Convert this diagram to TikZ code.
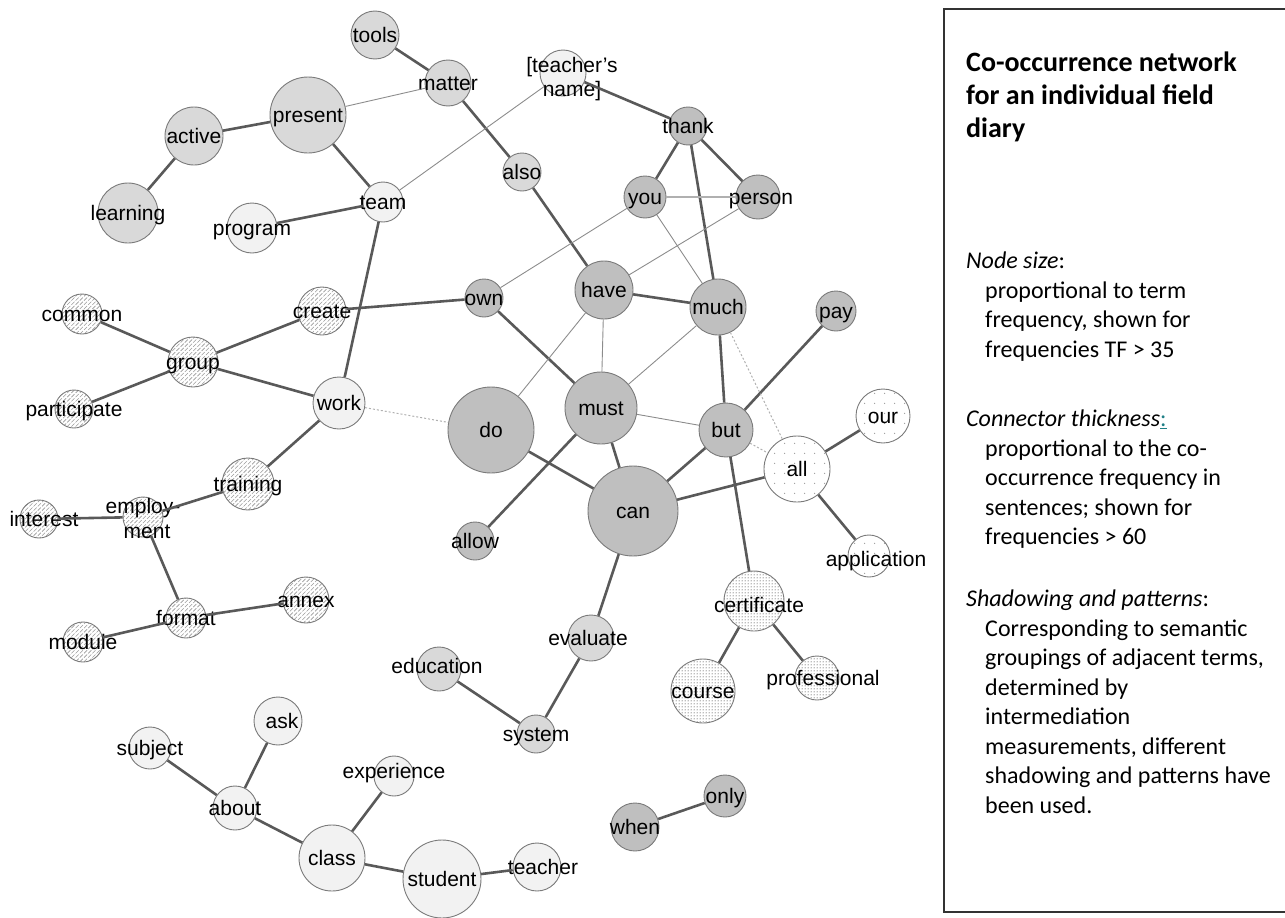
\documentclass[tikz,border=0pt]{standalone}
\usepackage{fontspec}
\usetikzlibrary{patterns}
\newfontfamily\termfont{Liberation Sans}
\newfontfamily\legendfont{Carlito}

\definecolor{darkfill}{HTML}{BFBFBF}
\definecolor{midfill}{HTML}{D9D9D9}
\definecolor{lightfill}{HTML}{F2F2F2}
\definecolor{rimgray}{HTML}{7A7A7A}
\definecolor{heavygray}{HTML}{595959}
\definecolor{thingray}{HTML}{8C8C8C}
\definecolor{palegray}{HTML}{B0B0B0}
\definecolor{dotgray}{HTML}{9A9A9A}
\definecolor{densegray}{HTML}{7C7C7C}
\definecolor{linkteal}{HTML}{1F7F86}

% patterns for the term groups
\pgfdeclarepatternformonly{hatch}{\pgfqpoint{-1pt}{-1pt}}{\pgfqpoint{5pt}{5pt}}{\pgfqpoint{4.2pt}{4.2pt}}{
  \pgfsetlinewidth{0.6pt}
  \pgfpathmoveto{\pgfqpoint{0pt}{0pt}}
  \pgfpathlineto{\pgfqpoint{3.1pt}{3.1pt}}
  \pgfusepath{stroke}
}
\pgfdeclarepatternformonly{sparsedots}{\pgfqpoint{0pt}{0pt}}{\pgfqpoint{10pt}{10pt}}{\pgfqpoint{10pt}{10pt}}{
  \pgfpathcircle{\pgfqpoint{5pt}{5pt}}{0.75pt}
  \pgfusepath{fill}
}
\pgfdeclarepatternformonly{densedots}{\pgfqpoint{0pt}{0pt}}{\pgfqpoint{3pt}{3pt}}{\pgfqpoint{3pt}{3pt}}{
  \pgfpathcircle{\pgfqpoint{1.5pt}{1.5pt}}{0.8pt}
  \pgfusepath{fill}
}

\begin{document}
\begin{tikzpicture}[x=1pt, y=-1pt]
    \tikzset{vertex/.style = {shape=circle, draw=rimgray, line width=0.9pt, inner sep=0pt}}
    \tikzset{vdark/.style = {vertex, fill=darkfill}}
    \tikzset{vmid/.style = {vertex, fill=midfill}}
    \tikzset{vlight/.style = {vertex, fill=lightfill}}
    \tikzset{vhatch/.style = {vertex, pattern=hatch, pattern color=dotgray}}
    \tikzset{vsparse/.style = {vertex, pattern=sparsedots, pattern color=dotgray}}
    \tikzset{vdense/.style = {vertex, pattern=densedots, pattern color=densegray}}
    \tikzset{every label/.style = {font=\termfont\fontsize{21}{25}\selectfont, inner sep=0pt, text height=15pt, text depth=0pt}}
    \tikzset{edge/.style = {draw=heavygray, line width=2.6pt}}
    \tikzset{thinedge/.style = {draw=thingray, line width=0.9pt}}
    \tikzset{paleedge/.style = {draw=palegray, line width=1.7pt}}
    \tikzset{weakedge/.style = {draw=palegray, line width=1pt, dash pattern=on 2pt off 2pt}}
    \tikzset{legend/.style = {anchor=north west, align=left, inner sep=0pt, font=\legendfont\fontsize{24}{29.5}\selectfont}}

    \useasboundingbox (0,0) rectangle (1285,918);

    % vertices
    \node[vmid, minimum size=48pt, label=center:tools] (tools) at (375,35) {};
    \node[vmid, minimum size=46pt, label=center:matter] (matter) at (448,83) {};
    \node[vmid, minimum size=76pt, label=center:present] (present) at (308,115) {};
    \node[vmid, minimum size=58pt, label=center:active] (active) at (194,136) {};
    \node[vmid, minimum size=60pt, label=center:learning] (learning) at (128,213) {};
    \node[vlight, minimum size=40pt, label=center:team] (team) at (383,202) {};
    \node[vlight, minimum size=50pt, label=center:program] (program) at (252,228) {};
    \node[vlight, minimum size=46pt, label={[xshift=9pt, yshift=8pt]center:[teacher’s}, label={[xshift=9pt, yshift=-16pt]center:name]}] (tname) at (563,73) {};
    \node[vdark, minimum size=38pt, label=center:thank] (thank) at (688,126) {};
    \node[vmid, minimum size=38pt, label=center:also] (also) at (522,172) {};
    \node[vdark, minimum size=42pt, label=center:you] (you) at (645,197) {};
    \node[vdark, minimum size=44pt, label={[xshift=3pt]center:person}] (person) at (758,197) {};
    \node[vdark, minimum size=38pt, label=center:own] (own) at (484,298) {};
    \node[vdark, minimum size=58pt, label=center:have] (have) at (604,290) {};
    \node[vdark, minimum size=56pt, label=center:much] (much) at (718,307) {};
    \node[vdark, minimum size=40pt, label=center:pay] (pay) at (836,311) {};
    \node[vhatch, minimum size=40pt, label=center:common] (common) at (82,314) {};
    \node[vhatch, minimum size=50pt, label=center:group] (group) at (193,362) {};
    \node[vhatch, minimum size=48pt, label=center:create] (create) at (322,311) {};
    \node[vhatch, minimum size=38pt, label=center:participate] (participate) at (74,409) {};
    \node[vlight, minimum size=52pt, label=center:work] (work) at (339,403) {};
    \node[vdark, minimum size=86pt, label=center:do] (do) at (491,430) {};
    \node[vdark, minimum size=72pt, label=center:must] (must) at (601,408) {};
    \node[vdark, minimum size=54pt, label=center:but] (but) at (726,430) {};
    \node[vsparse, minimum size=54pt, label=center:our] (our) at (883,416) {};
    \node[vsparse, minimum size=66pt, label=center:all] (all) at (797,469) {};
    \node[vdark, minimum size=90pt, label=center:can] (can) at (633,511) {};
    \node[vdark, minimum size=38pt, label=center:allow] (allow) at (475,541) {};
    \node[vsparse, minimum size=42pt, label={[xshift=7pt, yshift=-3pt]center:application}] (application) at (869,556) {};
    \node[vhatch, minimum size=52pt, label=center:training] (training) at (248,484) {};
    \node[vhatch, minimum size=40pt, label={[yshift=11pt]center:employ-}, label={[xshift=4pt, yshift=-14pt]center:ment}] (employment) at (143,517) {};
    \node[vhatch, minimum size=38pt, label={[xshift=5pt]center:interest}] (interest) at (39,519) {};
    \node[vdense, minimum size=60pt, label={[xshift=5pt, yshift=-4pt]center:certificate}] (certificate) at (754,601) {};
    \node[vmid, minimum size=46pt, label={[xshift=-3pt]center:evaluate}] (evaluate) at (591,638) {};
    \node[vhatch, minimum size=40pt, label=center:format] (format) at (186,618) {};
    \node[vhatch, minimum size=46pt, label=center:annex] (annex) at (306,600) {};
    \node[vhatch, minimum size=40pt, label=center:module] (module) at (83,642) {};
    \node[vmid, minimum size=44pt, label={[xshift=-2pt, yshift=3pt]center:education}] (education) at (439,669) {};
    \node[vdense, minimum size=64pt, label=center:course] (course) at (703,691) {};
    \node[vdense, minimum size=44pt, label={[xshift=6pt]center:professional}] (professional) at (817,678) {};
    \node[vlight, minimum size=48pt, label={[xshift=4pt]center:ask}] (ask) at (278,721) {};
    \node[vmid, minimum size=38pt, label=center:system] (system) at (536,734) {};
    \node[vlight, minimum size=42pt, label=center:subject] (subject) at (150,748) {};
    \node[vlight, minimum size=40pt, label={[yshift=5pt]center:experience}] (experience) at (394,776) {};
    \node[vlight, minimum size=44pt, label=center:about] (about) at (235,808) {};
    \node[vlight, minimum size=66pt, label=center:class] (class) at (332,858) {};
    \node[vlight, minimum size=78pt, label=center:student] (student) at (442,879) {};
    \node[vlight, minimum size=48pt, label={[xshift=6pt]center:teacher}] (teacher) at (537,867) {};
    \node[vdark, minimum size=48pt, label=center:when] (when) at (635,827) {};
    \node[vdark, minimum size=42pt, label=center:only] (only) at (725,796) {};

    % edges
    \draw [edge] (tools) -- (matter);
    \draw [edge] (matter) -- (also);
    \draw [edge] (also) -- (have);
    \draw [edge] (present) -- (active);
    \draw [edge] (active) -- (learning);
    \draw [edge] (present) -- (team);
    \draw [edge] (team) -- (program);
    \draw [edge] (team) -- (work);
    \draw [edge] (tname) -- (thank);
    \draw [edge] (thank) -- (you);
    \draw [edge] (thank) -- (person);
    \draw [edge] (thank) -- (much);
    \draw [edge] (create) -- (own);
    \draw [edge] (group) -- (common);
    \draw [edge] (group) -- (create);
    \draw [edge] (group) -- (participate);
    \draw [edge] (group) -- (work);
    \draw [edge] (work) -- (training);
    \draw [edge] (training) -- (employment);
    \draw [edge] (employment) -- (interest);
    \draw [edge] (employment) -- (format);
    \draw [edge] (format) -- (module);
    \draw [edge] (format) -- (annex);
    \draw [edge] (own) -- (must);
    \draw [edge] (have) -- (much);
    \draw [edge] (much) -- (but);
    \draw [edge] (but) -- (pay);
    \draw [edge] (but) -- (can);
    \draw [edge] (but) -- (certificate);
    \draw [edge] (do) -- (can);
    \draw [edge] (must) -- (can);
    \draw [edge] (must) -- (allow);
    \draw [edge] (can) -- (all);
    \draw [edge] (all) -- (our);
    \draw [edge] (all) -- (application);
    \draw [edge] (certificate) -- (course);
    \draw [edge] (certificate) -- (professional);
    \draw [edge] (can) -- (evaluate);
    \draw [edge] (evaluate) -- (system);
    \draw [edge] (system) -- (education);
    \draw [edge] (subject) -- (about);
    \draw [edge] (about) -- (ask);
    \draw [edge] (about) -- (class);
    \draw [edge] (class) -- (experience);
    \draw [edge] (class) -- (student);
    \draw [edge] (student) -- (teacher);
    \draw [edge] (when) -- (only);
    \draw [thinedge] (present) -- (matter);
    \draw [thinedge] (team) -- (tname);
    \draw [thinedge] (you) -- (own);
    \draw [thinedge] (you) -- (much);
    \draw [thinedge] (person) -- (have);
    \draw [thinedge] (have) -- (must);
    \draw [thinedge] (have) -- (do);
    \draw [thinedge] (much) -- (must);
    \draw [thinedge] (must) -- (but);
    \draw [paleedge] (you) -- (person);
    \draw [weakedge] (work) -- (do);
    \draw [weakedge] (much) -- (all);
    \draw [weakedge] (but) -- (all);

    % legend
    \draw [line width=1.1pt, draw=black!80] (944,9) rectangle (1295,912);
    \node[legend, font=\legendfont\bfseries\fontsize{28}{33}\selectfont] (title) at (966,52) {Co-occurrence network\\for an individual field\\diary};
    \node[legend] (sizenote) at (966,252) {\textit{Node size}:\\\hspace*{19pt}proportional to term\\\hspace*{19pt}frequency, shown for\\\hspace*{19pt}frequencies TF > 35};
    \node[legend] (thicknote) at (966,410) {\textit{Connector thickness}\textcolor{linkteal}{\underline{:}}\\\hspace*{19pt}proportional to the co-\\\hspace*{19pt}occurrence frequency in\\\hspace*{19pt}sentences; shown for\\\hspace*{19pt}frequencies > 60};
    \node[legend] (patternnote) at (966,590) {\textit{Shadowing and patterns}:\\\hspace*{19pt}Corresponding to semantic\\\hspace*{19pt}groupings of adjacent terms,\\\hspace*{19pt}determined by\\\hspace*{19pt}intermediation\\\hspace*{19pt}measurements, different\\\hspace*{19pt}shadowing and patterns have\\\hspace*{19pt}been used.};
\end{tikzpicture}
\end{document}
